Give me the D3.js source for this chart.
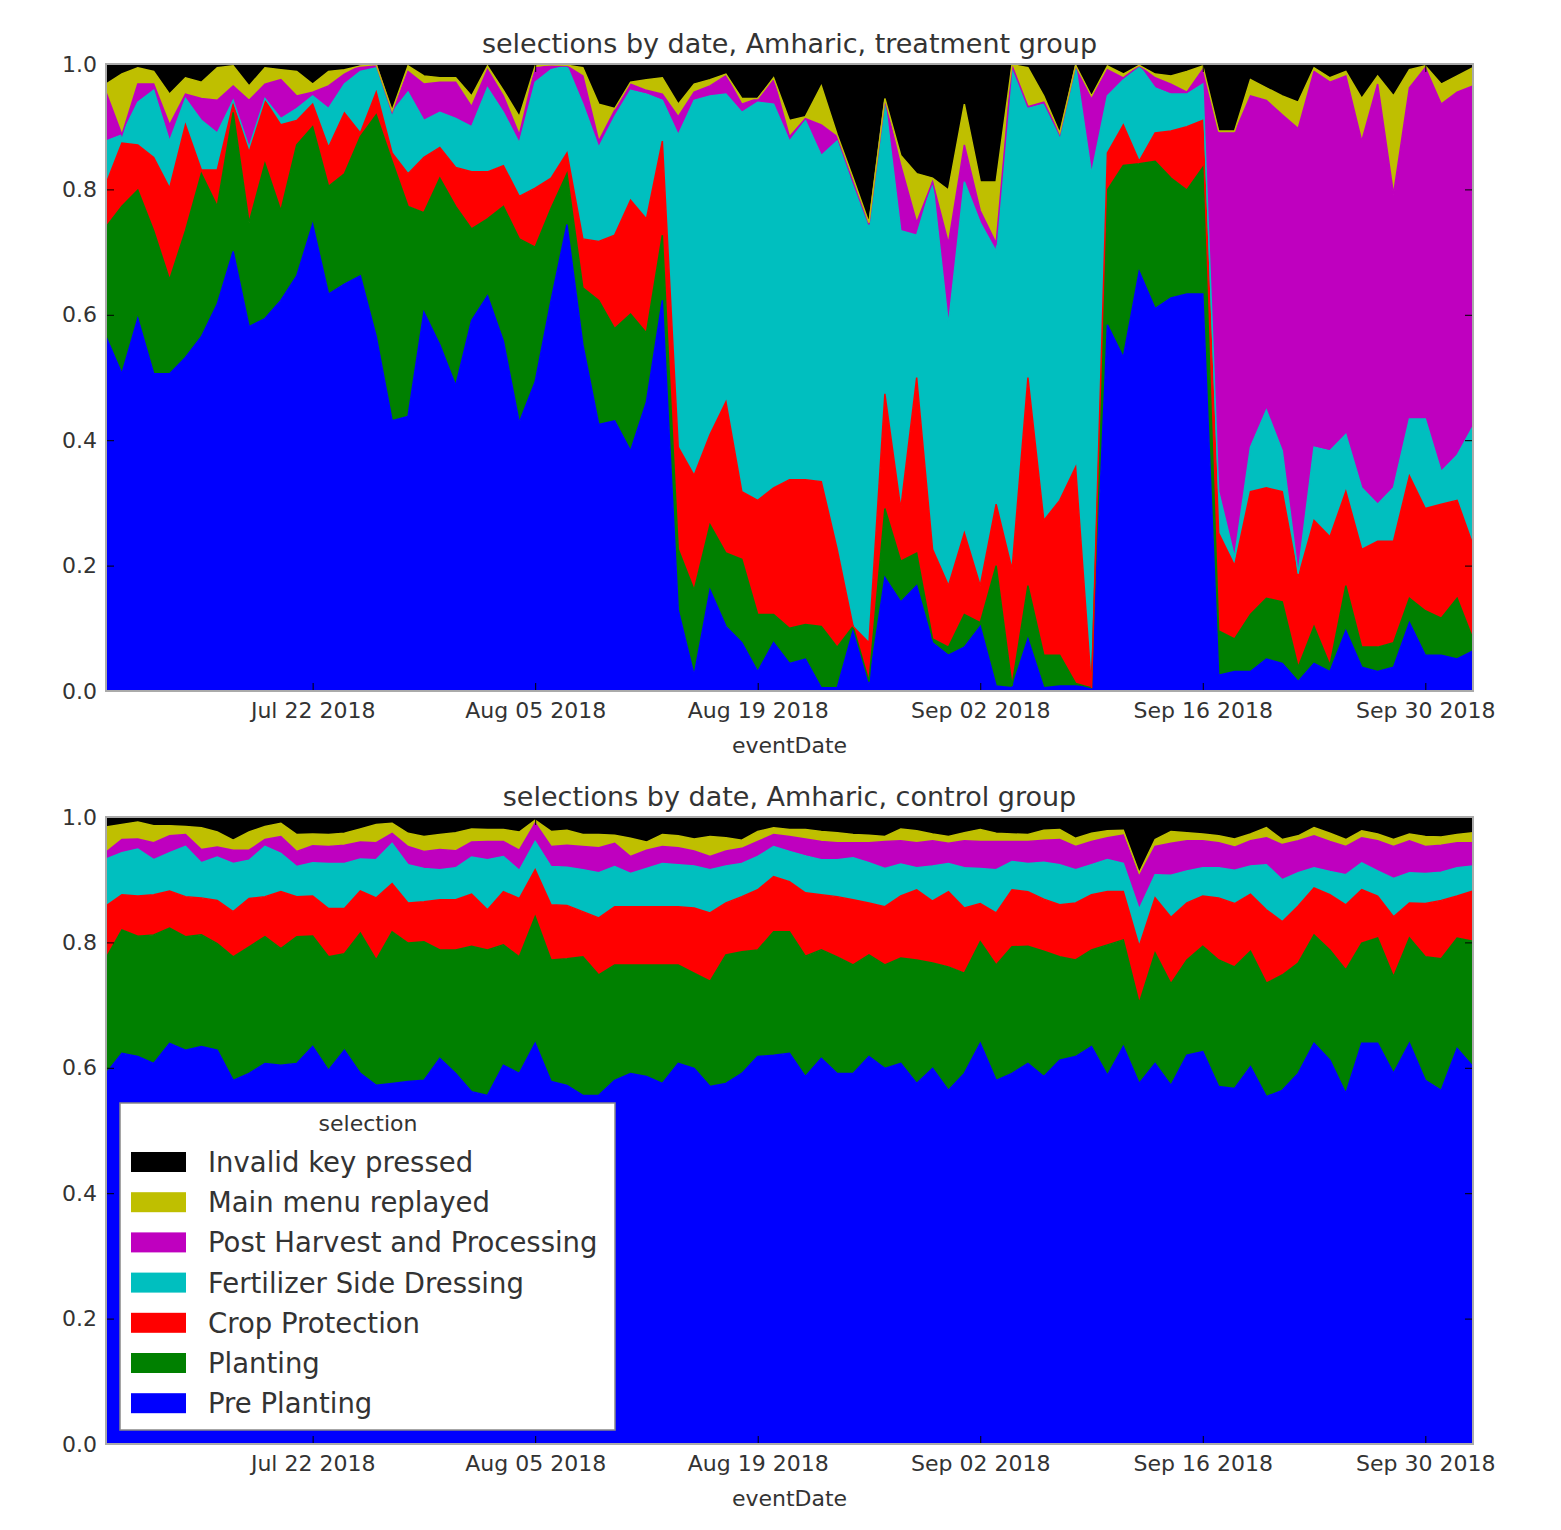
<!DOCTYPE html>
<html>
<head>
<meta charset="utf-8">
<script src="https://cdn.jsdelivr.net/npm/d3@7"></script>
<style>
  body { margin: 0; background: #fff; }
  svg { display: block; }
  text { font-family: "DejaVu Sans", sans-serif; fill: #333; }
</style>
</head>
<body>
<svg id="chart" width="1561" height="1530"></svg>
<script>
const startDate = "2018-07-09", endDate = "2018-10-03";
const selections = ["Pre Planting", "Planting", "Crop Protection", "Fertilizer Side Dressing",
    "Post Harvest and Processing", "Main menu replayed", "Invalid key pressed"];
const colors = ["#0000ff", "#008000", "#ff0000", "#00bfbf", "#bf00bf", "#bfbf00", "#000000"];
const yTicks = [0, 0.2, 0.4, 0.6, 0.8, 1.0];
const xTicks = ["2018-07-22", "2018-08-05", "2018-08-19", "2018-09-02", "2018-09-16", "2018-09-30"];

// treatment group: daily share of each selection (bottom -> top of stack)
const tPre = [.565,.506,.594,.506,.506,.532,.565,.617,.701,.581,.594,.623,.662,.744,.633,.649,.662,.565,.431,.438,
    .604,.552,.487,.591,.630,.558,.428,.493,.623,.744,.552,.425,.431,.383,.461,.623,.129,.025,.161,.103,
    .077,.031,.077,.044,.051,.005,.005,.096,.012,.181,.142,.168,.077,.057,.070,.103,.008,.005,.083,.005,
    .008,.008,.005,.584,.532,.669,.610,.627,.633,.633,.025,.031,.031,.051,.044,.015,.044,.031,.096,.038,
    .031,.038,.109,.057,.057,.051,.064];
const tPlant = [.175,.267,.205,.228,.150,.202,.260,.156,.222,.166,.247,.143,.209,.156,.172,.176,.222,.354,.414,.335,
    .159,.266,.286,.146,.123,.215,.293,.215,.147,.081,.091,.198,.147,.218,.110,.104,.097,.136,.104,.117,
    .133,.091,.045,.056,.055,.098,.065,.007,.003,.110,.065,.052,.006,.013,.052,.006,.192,.003,.085,.052,
    .049,.004,.000,.215,.306,.172,.235,.191,.166,.202,.071,.052,.091,.097,.098,.023,.059,.010,.072,.032,
    .039,.039,.039,.071,.059,.097,.019];
const tCrop = [.069,.101,.072,.117,.146,.169,.006,.058,.013,.117,.101,.137,.039,.036,.062,.097,.006,.036,.013,.052,
    .088,.049,.062,.091,.075,.065,.068,.094,.048,.033,.078,.094,.149,.182,.182,.150,.163,.183,.144,.241,
    .108,.182,.202,.237,.231,.231,.156,.000,.062,.183,.084,.280,.143,.098,.130,.059,.098,.186,.332,.215,
    .247,.345,.000,.059,.065,.004,.045,.075,.101,.075,.156,.117,.196,.176,.176,.143,.169,.205,.150,.156,
    .169,.162,.195,.163,.182,.156,.150];
const tFert = [.068,.013,.068,.107,.075,.042,.079,.059,.006,.003,.003,.010,.019,.013,.062,.046,.098,.039,.065,.130,
    .059,.056,.078,.072,.134,.085,.085,.169,.173,.139,.215,.150,.189,.175,.199,.065,.498,.598,.540,.491,
    .605,.635,.612,.540,.573,.520,.651,.709,.667,.468,.443,.227,.586,.416,.560,.579,.403,.800,.429,.664,
    .580,.640,.820,.091,.072,.152,.072,.059,.052,.058,.066,.013,.071,.124,.065,.006,.117,.137,.091,.098,
    .059,.085,.091,.143,.052,.072,.189];
const tPost = [.078,.000,.029,.010,.026,.007,.035,.052,.023,.075,.023,.062,.020,.006,.036,.016,.009,.005,.000,.033,
    .058,.048,.058,.032,.029,.026,.013,.023,.006,.000,.045,.010,.010,.010,.006,.010,.029,.013,.016,.029,
    .013,.006,.039,.007,.003,.049,.007,.000,.000,.000,.104,.020,.000,.130,.059,.019,.013,.003,.003,.003,
    .003,.000,.120,.042,.003,.000,.016,.016,.003,.023,.572,.677,.560,.494,.536,.710,.599,.588,.572,.553,
    .670,.468,.528,.560,.586,.579,.543];
const tMenu = [.013,.097,.026,.020,.049,.026,.026,.052,.032,.023,.026,.016,.039,.013,.023,.007,.000,.000,.003,.009,
    .013,.007,.007,.017,.006,.009,.029,.003,.002,.001,.013,.059,.003,.003,.017,.026,.020,.013,.010,.003,
    .009,.000,.003,.026,.003,.062,.003,.006,.003,.003,.016,.078,.006,.085,.065,.046,.098,.002,.062,.010,
    .003,.001,.004,.006,.006,.001,.006,.013,.033,.006,.003,.003,.026,.020,.030,.042,.006,.007,.007,.068,
    .013,.157,.029,.003,.032,.026,.029];
const tInvalid = [.032,.016,.006,.012,.048,.022,.029,.006,.003,.035,.006,.009,.012,.032,.012,.009,.003,.001,.074,.003,
    .019,.022,.022,.051,.003,.042,.084,.003,.001,.002,.006,.064,.071,.029,.025,.022,.064,.032,.025,.016,
    .055,.055,.022,.090,.084,.035,.113,.182,.253,.055,.146,.175,.182,.201,.064,.188,.188,.001,.006,.051,
    .110,.002,.051,.003,.016,.002,.016,.019,.012,.003,.107,.107,.025,.038,.051,.061,.006,.022,.012,.055,
    .019,.051,.009,.003,.032,.019,.006];

// control group
const cPre = [.591,.623,.618,.607,.639,.628,.634,.628,.580,.591,.607,.604,.607,.634,.596,.628,.591,.572,.575,.578,
    .580,.615,.591,.562,.556,.604,.591,.639,.578,.572,.556,.556,.580,.591,.586,.575,.607,.599,.570,.575,
    .591,.618,.620,.623,.586,.615,.591,.591,.618,.599,.607,.575,.599,.564,.591,.639,.580,.591,.607,.586,
    .612,.618,.634,.588,.634,.575,.607,.572,.620,.626,.570,.567,.602,.554,.564,.591,.639,.612,.559,.639,
    .639,.591,.639,.580,.564,.631,.602];
const cPlant = [.184,.197,.192,.205,.184,.181,.178,.170,.197,.202,.202,.186,.202,.176,.181,.154,.224,.200,.242,.221,
    .221,.173,.197,.232,.232,.192,.186,.202,.194,.202,.221,.192,.184,.173,.178,.189,.157,.152,.168,.205,
    .194,.170,.197,.194,.192,.173,.186,.173,.162,.165,.168,.197,.168,.197,.160,.162,.184,.202,.187,.200,
    .165,.154,.154,.208,.170,.128,.176,.162,.152,.168,.202,.194,.184,.181,.184,.176,.173,.176,.197,.160,
    .168,.154,.168,.197,.210,.176,.200];
const cCrop = [.083,.056,.064,.064,.059,.064,.059,.069,.072,.077,.064,.091,.064,.064,.077,.072,.067,.099,.077,.064,
    .064,.080,.080,.083,.064,.085,.093,.075,.088,.085,.072,.091,.093,.093,.093,.093,.093,.104,.109,.083,
    .088,.096,.088,.080,.101,.088,.096,.104,.083,.093,.099,.112,.099,.120,.104,.061,.083,.091,.087,.083,
    .083,.091,.088,.085,.077,.091,.088,.106,.091,.080,.099,.101,.091,.117,.085,.091,.075,.088,.104,.085,
    .067,.096,.056,.085,.093,.067,.080];
const cFert = [.075,.067,.075,.056,.061,.080,.056,.069,.077,.061,.080,.061,.048,.053,.072,.072,.051,.061,.064,.061,
    .053,.048,.051,.059,.080,.056,.045,.045,.061,.061,.067,.072,.064,.053,.061,.069,.067,.067,.069,.059,
    .053,.053,.048,.048,.059,.056,.059,.067,.064,.061,.051,.035,.056,.045,.064,.056,.069,.045,.045,.059,
    .064,.053,.048,.051,.045,.059,.037,.067,.051,.045,.048,.053,.045,.072,.067,.053,.032,.037,.048,.043,
    .040,.061,.048,.048,.045,.045,.040];
const cPost = [.011,.021,.016,.027,.027,.019,.021,.016,.021,.016,.011,.027,.024,.027,.027,.029,.027,.027,.016,.029,
    .027,.032,.027,.024,.029,.024,.032,.029,.032,.035,.037,.040,.037,.027,.029,.027,.027,.024,.021,.024,
    .024,.024,.019,.024,.027,.029,.027,.024,.032,.043,.037,.040,.040,.032,.043,.043,.045,.032,.035,.035,
    .040,.037,.037,.035,.045,.053,.045,.051,.048,.043,.040,.037,.040,.043,.056,.051,.051,.048,.045,.040,
    .048,.051,.051,.043,.043,.040,.037];
const cMenu = [.040,.024,.027,.027,.016,.013,.035,.024,.016,.029,.021,.021,.027,.019,.019,.019,.021,.029,.016,.021,
    .024,.024,.029,.021,.019,.019,.029,.005,.024,.024,.019,.021,.013,.029,.013,.019,.019,.019,.032,.021,
    .013,.016,.011,.011,.015,.016,.016,.013,.012,.008,.019,.019,.011,.011,.013,.019,.013,.012,.011,.016,
    .016,.013,.013,.011,.008,.005,.011,.019,.013,.011,.011,.013,.011,.016,.008,.008,.013,.013,.011,.011,
    .011,.011,.011,.016,.013,.013,.016];
const cInvalid = [.018,.012,.010,.015,.015,.015,.018,.023,.036,.023,.015,.010,.028,.028,.028,.026,.020,.012,.010,.026,
    .031,.028,.026,.020,.020,.020,.023,.004,.023,.020,.028,.028,.028,.034,.039,.028,.031,.036,.031,.034,
    .036,.023,.018,.020,.021,.023,.026,.028,.030,.031,.020,.023,.028,.031,.026,.020,.026,.027,.028,.023,
    .020,.034,.026,.023,.020,.089,.036,.023,.026,.028,.031,.034,.028,.018,.036,.031,.018,.026,.036,.023,
    .028,.036,.028,.031,.031,.028,.026];

const parseDate = d3.timeParse("%Y-%m-%d");
// one row per day from start to end
const dates = d3.timeDay.range(parseDate(startDate), d3.timeDay.offset(parseDate(endDate), 1));

const svg = d3.select("#chart");
const left = 106, right = 1473, plotH = 627;
const x = d3.scaleTime().domain([dates[0], dates[dates.length - 1]]).range([left, right]);

function drawPanel(top, title, cols, id) {
    const y = d3.scaleLinear().domain([0, 1]).range([top + plotH, top]);
    const rows = dates.map((d, i) => {
        const r = { date: d };
        selections.forEach((s, k) => r[s] = cols[k][i]);
        return r;
    });
    const layers = d3.stack().keys(selections)(rows);
    const g = svg.append("g");

    g.append("clipPath").attr("id", id).append("rect")
        .attr("x", left).attr("y", top).attr("width", right - left).attr("height", plotH);
    const plot = g.append("g").attr("clip-path", `url(#${id})`);

    const area = d3.area().x(d => x(d.data.date)).y0(d => y(d[0])).y1(d => y(d[1]));
    const line = d3.line().x(d => x(d.data.date)).y(d => y(d[1]));

    plot.selectAll(".layer").data(layers).join("path")
        .attr("class", "layer")
        .attr("fill", (d, i) => colors[i])
        .attr("d", area);
    plot.selectAll(".edge").data(layers).join("path")
        .attr("class", "edge")
        .attr("fill", "none")
        .attr("stroke", (d, i) => colors[i])
        .attr("stroke-width", 1.5)
        .attr("d", line);

    // axes, ticks pointing inward like classic matplotlib
    const xt = xTicks.map(parseDate);
    const xAxis = g.append("g").attr("transform", `translate(0,${top + plotH})`)
        .call(d3.axisBottom(x).tickValues(xt).tickFormat(d3.timeFormat("%b %d %Y"))
            .tickSizeInner(-8).tickSizeOuter(0).tickPadding(11));
    g.append("g").attr("transform", `translate(0,${top})`)
        .call(d3.axisTop(x).tickValues(xt).tickFormat("").tickSizeInner(-8).tickSizeOuter(0));
    const yAxis = g.append("g").attr("transform", `translate(${left},0)`)
        .call(d3.axisLeft(y).tickValues(yTicks).tickFormat(d3.format(".1f"))
            .tickSizeInner(-8).tickSizeOuter(0).tickPadding(9));
    g.append("g").attr("transform", `translate(${right},0)`)
        .call(d3.axisRight(y).tickValues(yTicks).tickFormat("").tickSizeInner(-8).tickSizeOuter(0));

    g.selectAll(".domain").remove();
    g.selectAll(".tick line").attr("stroke", "#000");
    [xAxis, yAxis].forEach(a => a.selectAll("text")
        .attr("font-size", 22).attr("font-family", "DejaVu Sans, sans-serif").style("fill", "#333"));

    g.append("rect")
        .attr("x", left).attr("y", top).attr("width", right - left).attr("height", plotH)
        .attr("fill", "none").attr("stroke", "#aaa").attr("stroke-width", 2);

    g.append("text").attr("x", (left + right) / 2).attr("y", top - 11)
        .attr("text-anchor", "middle").attr("font-size", 27).text(title);
    g.append("text").attr("x", (left + right) / 2).attr("y", top + plotH + 62)
        .attr("text-anchor", "middle").attr("font-size", 22).text("eventDate");
}

drawPanel(64, "selections by date, Amharic, treatment group",
    [tPre, tPlant, tCrop, tFert, tPost, tMenu, tInvalid], "clipTop");
drawPanel(817, "selections by date, Amharic, control group",
    [cPre, cPlant, cCrop, cFert, cPost, cMenu, cInvalid], "clipBottom");

// legend (reversed, top of stack first)
const legend = svg.append("g").attr("transform", "translate(120,1103)");
legend.append("rect").attr("width", 495).attr("height", 327)
    .attr("fill", "#fff").attr("stroke", "#888").attr("stroke-width", 1.5);
legend.append("text").attr("x", 248).attr("y", 28).attr("text-anchor", "middle")
    .attr("font-size", 22).text("selection");
const items = selections.map((s, i) => ({ name: s, color: colors[i] })).reverse();
const entry = legend.selectAll(".entry").data(items).join("g")
    .attr("class", "entry")
    .attr("transform", (d, i) => `translate(0,${59 + i * 40.2})`);
entry.append("rect").attr("x", 11).attr("y", -10).attr("width", 55).attr("height", 20)
    .attr("fill", d => d.color);
entry.append("text").attr("x", 88).attr("y", 10).attr("font-size", 27.5).text(d => d.name);
</script>
</body>
</html>
